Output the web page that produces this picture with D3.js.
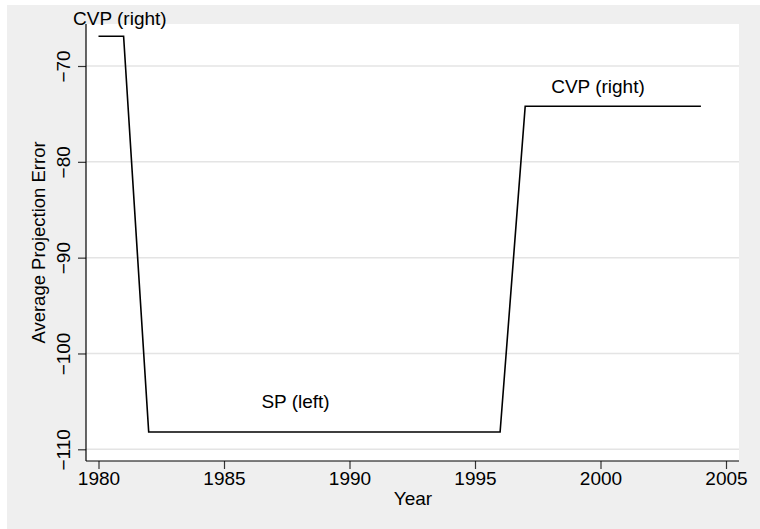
<!DOCTYPE html>
<html>
<head>
<meta charset="utf-8">
<script src="https://cdn.jsdelivr.net/npm/d3@7"></script>
<style>
  body { margin: 0; background: #fff; }
  text { font-family: "Liberation Sans", Arial, sans-serif; fill: #000; }
</style>
</head>
<body>
<div id="chart"></div>
<script>
// data
const years = [1980, 1981, 1982, 1983, 1984, 1985, 1986, 1987, 1988, 1989, 1990, 1991, 1992,
  1993, 1994, 1995, 1996, 1997, 1998, 1999, 2000, 2001, 2002, 2003, 2004];
const errors = [-66.9, -66.9, -108.2, -108.2, -108.2, -108.2, -108.2, -108.2, -108.2, -108.2,
  -108.2, -108.2, -108.2, -108.2, -108.2, -108.2, -108.2, -74.2, -74.2, -74.2, -74.2, -74.2,
  -74.2, -74.2, -74.2];
const xTicks = [1980, 1985, 1990, 1995, 2000, 2005];
const yTicks = [-70, -80, -90, -100, -110];
const labels = ["CVP (right)", "SP (left)", "CVP (right)"];
const labelYears = [1980.85, 1987.85, 1999.9];
const labelValues = [-65.7, -105.7, -72.8];

const W = 760, H = 529;
const plot = { left: 86, right: 739, top: 24, bottom: 461 };

const svg = d3.select("#chart").append("svg")
  .attr("width", W)
  .attr("height", H);

// outer background
svg.append("rect")
  .attr("x", 7).attr("y", 5)
  .attr("width", W - 7).attr("height", H - 5)
  .attr("fill", "#efefef");

svg.append("rect")
  .attr("x", plot.left).attr("y", plot.top)
  .attr("width", plot.right - plot.left).attr("height", plot.bottom - plot.top)
  .attr("fill", "#fff");

const x = d3.scaleLinear().domain([1980, 2005]).range([98.5, 726]);
const y = d3.scaleLinear().domain([-110, -70]).range([449.3, 66]);

// grid lines
svg.append("g")
  .selectAll("line")
  .data(yTicks)
  .join("line")
  .attr("x1", plot.left).attr("x2", plot.right)
  .attr("y1", d => y(d)).attr("y2", d => y(d))
  .attr("stroke", "#e4e4e4")
  .attr("stroke-width", 1.5);

// y axis
const yAxis = svg.append("g")
  .attr("transform", `translate(${plot.left},0)`)
  .call(d3.axisLeft(y).tickValues(yTicks).tickSize(8).tickSizeOuter(0)
    .tickFormat(d => d3.format("d")(d).replace("-", "\u2212")));
yAxis.select(".domain").remove();
yAxis.append("line")
  .attr("x1", 0).attr("x2", 0)
  .attr("y1", plot.top).attr("y2", plot.bottom)
  .attr("stroke", "#000").attr("stroke-width", 1.2);
yAxis.selectAll(".tick line").attr("stroke", "#333").attr("stroke-width", 1.2);
yAxis.selectAll(".tick text")
  .attr("x", 0).attr("y", 0)
  .attr("dy", null)
  .attr("text-anchor", "middle")
  .attr("transform", "translate(-16,0) rotate(-90)")
  .style("font-size", "19px")
  .style("font-family", "Liberation Sans, Arial, sans-serif");

// x axis
const xAxis = svg.append("g")
  .attr("transform", `translate(0,${plot.bottom})`)
  .call(d3.axisBottom(x).tickValues(xTicks).tickSize(8).tickSizeOuter(0)
    .tickFormat(d3.format("d")));
xAxis.select(".domain").remove();
xAxis.append("line")
  .attr("x1", plot.left).attr("x2", plot.right)
  .attr("y1", 0).attr("y2", 0)
  .attr("stroke", "#000").attr("stroke-width", 1.2);
xAxis.selectAll(".tick line")
  .attr("y1", 0).attr("y2", 8)
  .attr("stroke", "#333").attr("stroke-width", 1.2);
xAxis.selectAll(".tick text")
  .attr("y", 24).attr("dy", null)
  .style("font-size", "19px")
  .style("font-family", "Liberation Sans, Arial, sans-serif");

// axis titles
svg.append("text")
  .attr("x", 413).attr("y", 505)
  .attr("text-anchor", "middle")
  .style("font-size", "19px")
  .text("Year");

svg.append("text")
  .attr("transform", "translate(45,242.5) rotate(-90)")
  .attr("text-anchor", "middle")
  .style("font-size", "18.5px")
  .text("Average Projection Error");

// the line
const line = d3.line()
  .x((d, i) => x(years[i]))
  .y(d => y(d));

svg.append("path")
  .datum(errors)
  .attr("d", line)
  .attr("fill", "none")
  .attr("stroke", "#000")
  .attr("stroke-width", 1.6);

// labels
svg.append("g")
  .selectAll("text")
  .data(labels)
  .join("text")
  .attr("x", (d, i) => x(labelYears[i]))
  .attr("y", (d, i) => y(labelValues[i]))
  .attr("text-anchor", "middle")
  .style("font-size", "19px")
  .text(d => d);
</script>
</body>
</html>
